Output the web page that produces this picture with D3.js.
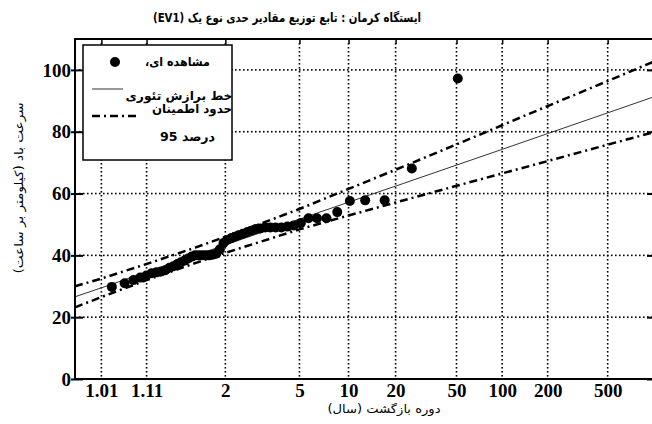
<!DOCTYPE html>
<html>
<head>
<meta charset="utf-8">
<script src="https://cdn.jsdelivr.net/npm/d3@7"></script>
<style>
  body { margin: 0; background: #fff; }
  .num { font-family: "Liberation Serif", "DejaVu Serif", serif; font-weight: bold; font-size: 19px; fill: #000; }
  .fa { font-family: "DejaVu Sans", sans-serif; fill: #000; direction: rtl; }
</style>
</head>
<body>
<div id="chart"></div>
<script>
// return periods (years) at which the fitted line and the 95% bounds are read
const curveT = [1.001, 1.01, 1.11, 1.5, 2, 3, 5, 10, 20, 50, 100, 200, 500, 1000];
const fitLine = [26.6, 29.5, 34.6, 40.0, 43.4, 47.3, 51.7, 57.2, 62.4, 69.2, 74.3, 79.4, 86.1, 91.2];
const upperBound = [30.0, 32.5, 37.2, 42.5, 46.0, 50.2, 55.0, 61.5, 67.7, 75.9, 82.1, 88.3, 96.4, 102.6];
const lowerBound = [23.2, 26.5, 32.0, 37.5, 40.8, 44.4, 48.4, 52.9, 57.1, 62.5, 66.5, 70.5, 75.8, 79.8];

// observed annual maxima (km/h) and their plotting return periods
const obsT = [51, 25.5, 17, 12.75, 10.2, 8.5, 7.286, 6.375, 5.667, 5.1,
  4.636, 4.25, 3.923, 3.643, 3.4, 3.188, 3.0, 2.833, 2.684, 2.55,
  2.429, 2.318, 2.217, 2.125, 2.04, 1.962, 1.889, 1.821, 1.759, 1.7,
  1.645, 1.594, 1.545, 1.5, 1.457, 1.417, 1.378, 1.342, 1.308, 1.275,
  1.244, 1.214, 1.186, 1.159, 1.133, 1.109, 1.085, 1.063, 1.041, 1.02];
const obsSpeed = [97.2, 68.1, 57.8, 57.8, 57.6, 54.0, 52.0, 52.0, 52.0, 50.5,
  49.7, 49.3, 49.0, 49.0, 49.0, 49.0, 48.7, 48.5, 48.0, 47.5,
  47.0, 46.5, 46.0, 45.5, 45.0, 44.0, 42.0, 40.5, 40.2, 40.0,
  40.0, 40.0, 40.0, 40.0, 39.6, 39.0, 38.3, 37.8, 37.2, 36.5,
  36.0, 35.2, 34.8, 34.5, 34.2, 33.5, 32.8, 32.0, 31.0, 29.8];

const xTickT = [1.01, 1.11, 2, 5, 10, 20, 50, 100, 200, 500];
const xTickLabels = ["1.01", "1.11", "2", "5", "10", "20", "50", "100", "200", "500"];
const yTicks = [0, 20, 40, 60, 80, 100];

const W = 652, H = 424;
const pLeft = 75, pRight = 653, pTop = 39, pBottom = 379;

// Gumbel reduced variate
const rv = T => -Math.log(-Math.log(1 - 1 / T));

const xs = d3.scaleLinear().domain([rv(1.001), rv(1000)]).range([pLeft, pRight]);
const x = T => xs(rv(T));
const y = d3.scaleLinear().domain([0, 110]).range([pBottom, pTop]);

const svg = d3.select("#chart").append("svg")
  .attr("width", W)
  .attr("height", H);

// dotted grid, one small square per dot
const grid = svg.append("g").attr("fill", "#000");
const dot = 1.6, step = 4;

xTickT.forEach(t => {
  const gx0 = x(t) - dot / 2;
  grid.selectAll(null)
    .data(d3.range(pTop + 4, pBottom - 1, step))
    .enter().append("rect")
    .attr("x", gx0).attr("y", d => d)
    .attr("width", dot).attr("height", dot);
});

yTicks.slice(1).forEach(v => {
  const gy0 = y(v) - dot / 2;
  grid.selectAll(null)
    .data(d3.range(pLeft + 4, pRight - 1, step))
    .enter().append("rect")
    .attr("x", d => d).attr("y", gy0)
    .attr("width", dot).attr("height", dot);
});

// fitted line and confidence bounds
const curve = (vals) => d3.line()
  .x((d, i) => x(curveT[i]))
  .y(d => y(d))(vals);

svg.append("path")
  .attr("d", curve(fitLine))
  .attr("fill", "none")
  .attr("stroke", "#333")
  .attr("stroke-width", 1);

[upperBound, lowerBound].forEach(b => {
  svg.append("path")
    .attr("d", curve(b))
    .attr("fill", "none")
    .attr("stroke", "#000")
    .attr("stroke-width", 2.5)
    .attr("stroke-dasharray", "8,4,2,4");
});

// observations
svg.selectAll(".dot")
  .data(obsSpeed)
  .enter().append("circle")
  .attr("class", "dot")
  .attr("cx", (d, i) => x(obsT[i]))
  .attr("cy", d => y(d))
  .attr("r", 5)
  .attr("fill", "#000");

// axes
const yAxis = d3.axisLeft(y).tickValues(yTicks).tickSize(0).tickPadding(4);
const gy = svg.append("g")
  .attr("transform", `translate(${pLeft},0)`)
  .call(yAxis);
gy.select(".domain").remove();
gy.selectAll(".tick line").attr("x1", -4).attr("x2", 8).attr("stroke", "#000").attr("stroke-width", 2);
gy.selectAll("text").attr("class", "num");
gy.attr("font-family", null).attr("font-size", null);

const xAxis = d3.axisBottom(xs)
  .tickValues(xTickT.map(rv))
  .tickFormat((d, i) => xTickLabels[i])
  .tickSize(0)
  .tickPadding(5);
const gx = svg.append("g")
  .attr("transform", `translate(0,${pBottom})`)
  .call(xAxis);
gx.select(".domain").remove();
gx.selectAll("text").attr("class", "num");
gx.attr("font-family", null).attr("font-size", null);

const gt = svg.append("g")
  .attr("transform", `translate(0,${pTop})`)
  .call(d3.axisTop(xs).tickValues(xTickT.map(rv)).tickSize(-5).tickFormat(""));
gt.select(".domain").remove();
gt.selectAll(".tick line").attr("stroke", "#000").attr("stroke-width", 1.5);

const gr = svg.append("g")
  .attr("transform", `translate(${pRight},0)`)
  .call(d3.axisRight(y).tickValues(yTicks).tickSize(-6).tickFormat(""));
gr.select(".domain").remove();
gr.selectAll(".tick line").attr("stroke", "#000").attr("stroke-width", 2);

// frame
svg.append("rect")
  .attr("x", pLeft).attr("y", pTop)
  .attr("width", pRight - pLeft).attr("height", pBottom - pTop)
  .attr("fill", "none")
  .attr("stroke", "#000")
  .attr("stroke-width", 2);

// legend
const lg = svg.append("g");
lg.append("rect")
  .attr("x", 83).attr("y", 45)
  .attr("width", 149).attr("height", 115)
  .attr("fill", "#fff");

const faText = (g, cx, cy, size, len, txt) => g.append("text")
  .attr("class", "fa")
  .attr("x", cx).attr("y", cy)
  .attr("text-anchor", "middle")
  .attr("font-size", size)
  .attr("font-weight", "bold")
  .attr("textLength", len)
  .attr("lengthAdjust", "spacingAndGlyphs")
  .text(txt);

lg.append("circle").attr("cx", 115).attr("cy", 62).attr("r", 5).attr("fill", "#000");
faText(lg, 177.5, 66, 12, 65, "مشاهده ای،");

lg.append("line").attr("x1", 92).attr("x2", 123).attr("y1", 89).attr("y2", 89)
  .attr("stroke", "#333").attr("stroke-width", 1);
faText(lg, 179, 100, 12, 107, "خط برازش تئوری");

lg.append("line").attr("x1", 92).attr("x2", 138).attr("y1", 116).attr("y2", 116)
  .attr("stroke", "#000").attr("stroke-width", 2.5).attr("stroke-dasharray", "8,4,2,4");
faText(lg, 192, 113, 12, 80, "حدود اطمینان");
faText(lg, 187.5, 141, 13, 55, "درصد 95");

lg.append("rect")
  .attr("x", 83).attr("y", 45)
  .attr("width", 149).attr("height", 115)
  .attr("fill", "none")
  .attr("stroke", "#000")
  .attr("stroke-width", 1.5);

// title and axis titles
faText(svg, 287, 22, 12.5, 268, "ایستگاه کرمان : تابع توزیع مقادیر حدی نوع یک (EV1)");

faText(svg, 384, 413, 11.5, 113, "دوره بازگشت (سال)")
  .attr("font-weight", "normal");

faText(svg, 0, 0, 11.5, 171, "سرعت باد (کیلومتر بر ساعت)")
  .attr("font-weight", "normal")
  .attr("transform", "translate(23,188) rotate(-90)");
</script>
</body>
</html>
